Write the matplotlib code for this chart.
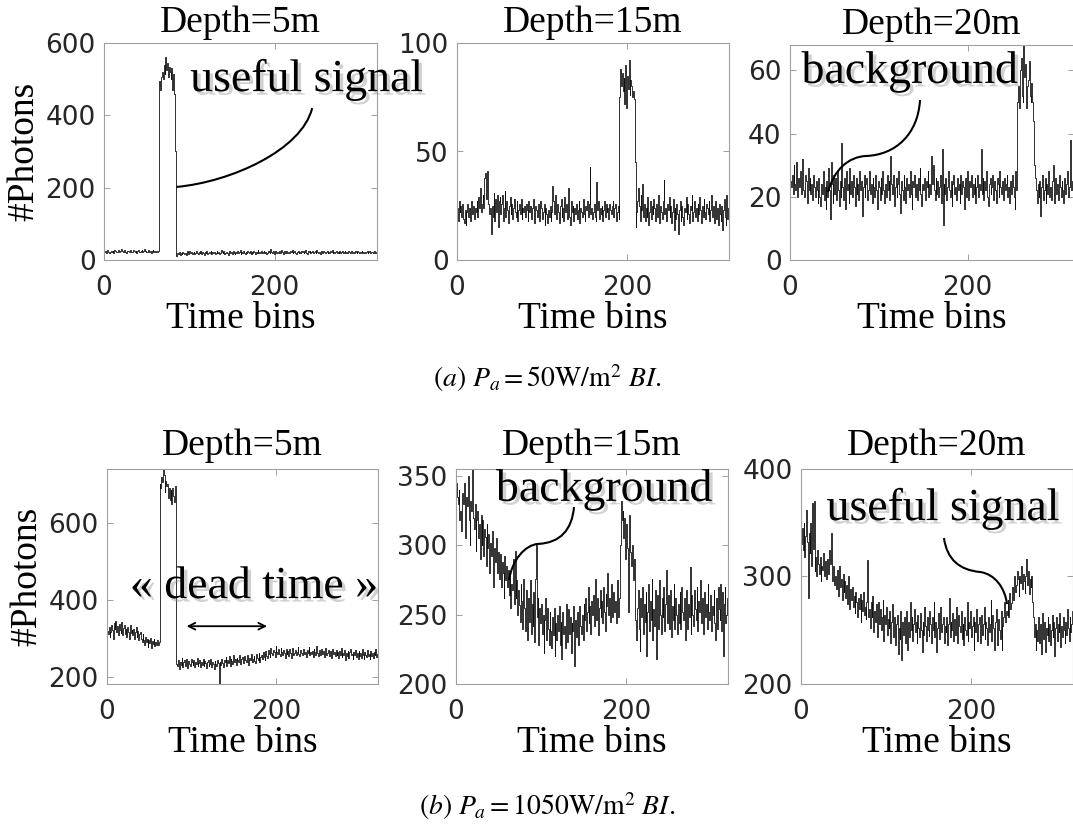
import numpy as np
import matplotlib
matplotlib.use("Agg")
import matplotlib.pyplot as plt
from matplotlib.path import Path
from matplotlib.patches import PathPatch
import matplotlib.patheffects as pe

plt.rcParams["font.family"] = "DejaVu Sans"
plt.rcParams["mathtext.fontset"] = "stix"

# photon counts per time bin
# (a) Pa = 50 W/m2
d5_low = (
    [22, 25, 20, 24, 27, 21, 19, 23, 26, 22, 24, 20, 28, 25, 21, 23, 27, 24, 22, 26,
     30, 24, 21, 25, 28, 23, 20, 24, 26, 22, 25, 29, 23, 21, 27, 24, 22, 25, 20, 26,
     28, 23, 21, 24, 27, 22, 25, 30, 24, 21, 23, 26, 28, 22, 24, 20, 25, 27, 23, 26,
     21, 24, 22, 25]
    + [480, 495, 470, 505, 520, 500, 540, 515, 560, 525, 545, 505, 535, 520, 500, 530,
       470, 515, 460, 300]
    + [10, 15, 18, 16, 21, 14, 19, 17, 22, 18, 16, 20, 15, 24, 19, 17, 26, 18, 21, 16,
       19, 23, 17, 20, 25, 18, 16, 22, 19, 24, 17, 21, 18, 15, 23, 20, 26, 17, 19, 22,
       18, 24, 16, 21, 19, 23, 17, 20, 25, 18, 22, 16, 19, 27, 21, 18, 24, 17, 20, 23,
       19, 15, 22, 26, 18, 21, 17, 24, 20, 16, 23, 19, 25, 18, 21, 28, 17, 22, 19, 24,
       20, 17, 23, 19, 26, 21, 18, 24, 16, 22, 19, 25, 21, 17, 23, 20, 27, 18, 22, 19,
       24, 18, 21, 26, 19, 23, 17, 20, 25, 22, 18, 30, 21, 19, 24, 17, 22, 26, 20, 23,
       19, 25, 18, 22, 28, 21, 17, 24, 20, 26, 22, 19, 23, 18, 25, 21, 27, 19, 22, 24,
       20, 17, 23, 26, 19, 22, 18, 25, 21, 24, 19, 23, 28, 20, 17, 24, 21, 26, 19, 22,
       25, 18, 21, 24, 20, 27, 22, 19, 23, 17, 24, 21, 19, 26, 22, 18, 23, 25, 20, 22,
       18, 24, 21, 27, 19, 23, 20, 22, 25, 18, 23, 20, 26, 19, 22, 24, 18, 21, 25, 20,
       22, 19, 24, 21, 18, 23, 26, 20, 22, 19, 25, 21, 18, 24, 22, 20, 23, 19, 26, 21,
       20, 23, 19, 22, 25, 18, 21, 24, 20, 22, 23, 19, 21, 24, 20, 22]
)

d15_low = (
    [24, 18, 27, 22, 25, 20, 26, 19, 17, 23, 16, 22, 26, 20, 24, 18, 23, 27, 21, 25,
     19, 24, 22, 27, 20, 29, 24, 33, 22, 26, 30, 24, 38, 40, 28, 41, 30, 26, 21, 24,
     12, 25, 20, 31, 18, 28, 22, 30, 15, 27, 29, 21, 26, 30, 18, 24, 32, 20, 27, 23,
     17, 25, 29, 21, 26, 19, 24, 28, 22, 20, 27, 18, 23, 26, 21, 28, 19, 24, 22, 25,
     20, 26, 23, 18, 27, 22, 25, 19, 24, 28, 21, 17, 25, 23, 20, 26, 22, 18, 27, 24,
     19, 22, 26, 16, 24, 21, 17, 23, 20, 25, 18, 22, 34, 27, 21, 30, 23, 19, 26, 22,
     17, 25, 28, 20, 24, 18, 29, 22, 26, 19, 23, 33, 20, 16, 27, 22, 25, 18, 24, 21,
     26, 19, 23, 27, 17, 24, 22, 20, 28, 21, 18, 25, 23, 27, 20, 26, 43, 21, 24, 19,
     22, 26, 20, 18, 36, 23, 27, 19, 24, 21, 25, 18, 23, 27, 20, 26, 22, 24, 19, 26,
     23, 21, 25, 27, 20, 24, 26, 18, 22, 25, 19]
    + [75, 88, 80, 86, 78, 84, 72, 90, 70, 85, 79, 92, 76, 83, 80, 75, 78, 74, 45]
    + [15, 22, 27, 33, 25, 18, 30, 23, 35, 20, 26, 18, 24, 20, 29, 16, 22, 27, 19, 25,
       21, 28, 24, 18, 26, 20, 23, 30, 17, 25, 22, 19, 27, 37, 21, 24, 18, 26, 23, 29,
       20, 25, 17, 22, 28, 14, 24, 19, 26, 21, 12, 23, 27, 18, 25, 20, 16, 24, 22, 29,
       19, 26, 21, 17, 25, 23, 30, 18, 22, 27, 20, 24, 18, 26, 21, 29, 23, 17, 25, 20,
       28, 22, 19, 26, 24, 21, 27, 18, 23, 30, 20, 25, 17, 22, 27, 19, 24, 16, 26, 21,
       18, 25, 14, 23, 28, 20, 16, 30, 19, 24]
)

d20_low = (
    [25, 23, 27, 21, 30, 24, 22, 31, 20, 26, 23, 28, 21, 24, 32, 22, 20, 27, 25, 18,
     29, 22, 26, 21, 24, 19, 27, 23, 20, 25, 22, 18, 26, 20, 17, 24, 21, 28, 19, 23,
     16, 25, 20, 29, 22, 13, 31, 24, 18, 27, 21, 26, 19, 28, 22, 17, 25, 20, 37, 23,
     19, 26, 16, 28, 22, 24, 18, 29, 21, 25, 20, 27, 23, 17, 26, 21, 24, 19, 28, 22,
     25, 14, 23, 27, 20, 24, 26, 19, 22, 28, 21, 24, 18, 26, 23, 20, 27, 22, 16, 25,
     23, 19, 26, 21, 28, 22, 18, 24, 20, 27, 22, 25, 19, 33, 24, 21, 27, 17, 23, 26,
     20, 24, 28, 21, 15, 25, 22, 19, 27, 23, 18, 26, 22, 24, 20, 28, 21, 16, 25, 23,
     27, 20, 24, 19, 26, 22, 29, 21, 17, 24, 22, 26, 19, 25, 23, 28, 20, 24, 21, 33,
     24, 30, 22, 19, 26, 21, 25, 20, 23, 27, 18, 35, 11, 24, 21, 26, 19, 23, 28, 22,
     20, 25, 17, 24, 27, 21, 23, 19, 26, 22, 24, 18, 27, 21, 25, 23, 16, 26, 20, 28,
     22, 19, 25, 23, 27, 20, 24, 21, 26, 18, 23, 27, 20, 24, 22, 35, 21, 26, 19, 25,
     22, 28, 20, 17, 24, 26, 21, 23, 27, 19, 25, 22, 18, 26, 24, 20, 28, 23, 21, 25,
     19, 26, 22, 24, 27, 20, 23, 18, 25, 21, 27, 23, 20, 16, 28, 22]
    + [50, 55, 48, 60, 64, 52, 50, 68, 58, 62, 48, 55, 57, 63, 52, 50, 56, 50, 44, 30]
    + [26, 22, 18, 24, 20, 25, 14, 23, 27, 19, 22, 26, 18, 24, 21, 28, 20, 23, 19, 25,
       30, 22, 18, 26, 21, 24, 19, 27, 23, 20, 25, 22, 18, 26, 21, 24, 28, 20, 23, 26,
       38, 22, 25, 20]
)

# (b) Pa = 1050 W/m2
d5_high = (
    [320, 312, 330, 305, 318, 335, 322, 300, 340, 325, 345, 318, 332, 310, 338, 322,
     315, 342, 308, 328, 335, 312, 326, 305, 330, 318, 300, 336, 314, 322, 308, 325,
     298, 316, 330, 304, 320, 296, 312, 318, 300, 290, 312, 296, 284, 305, 292, 300,
     278, 296, 288, 302, 275, 294, 286, 298, 280, 292, 284, 296, 282, 290]
    + [700, 690, 720, 705, 740, 725, 680, 710, 695, 700, 665, 690, 660, 685, 650, 690,
       670, 655, 695, 600]
    + [235, 228, 245, 222, 240, 232, 250, 226, 238, 244, 230, 248, 236, 224, 242, 233,
       228, 246, 238, 231, 244, 226, 240, 235, 250, 229, 237, 243, 225, 239, 232, 246,
       228, 241, 236, 223, 238, 245, 230, 234, 247, 226, 239, 233, 221, 242, 235, 229,
       244, 237, 182, 240, 231, 248, 236, 226, 243, 238, 252, 230, 245, 237, 255, 229,
       248, 241, 233, 256, 238, 246, 232, 250, 243, 238, 258, 235, 247, 252, 240, 236,
       254, 243, 238, 257, 246, 232, 250, 244, 260, 239, 248, 255, 242, 236, 259, 250,
       245, 262, 240, 253, 258, 247, 265, 252, 244, 268, 255, 250, 270, 260, 253, 275,
       262, 257, 270, 264, 252, 280, 266, 259, 272, 261, 255, 276, 265, 258, 270, 262,
       250, 274, 260, 268, 255, 272, 263, 249, 266, 275, 258, 262, 270, 256, 265, 278,
       260, 254, 271, 263, 257, 268, 274, 259, 266, 252, 270, 262, 278, 256, 265, 260,
       268, 253, 272, 264, 258, 280, 262, 255, 270, 266, 257, 274, 260, 268, 252, 265,
       276, 258, 263, 270, 255, 268, 262, 250, 272, 260, 266, 254, 270, 258, 264, 249,
       268, 258, 275, 252, 262, 256, 270, 245, 262, 255, 268, 250, 264, 272, 256, 260,
       248, 266, 258, 270, 252, 263, 246, 268, 255, 262, 250, 272, 256, 248, 265, 258,
       252, 270, 254, 260, 246, 268, 255, 262, 250, 266, 258, 272, 252, 260]
)

d15_high = (
    [345, 335, 330, 340, 318, 325, 310, 338, 330, 345, 322, 305, 335, 328, 350, 318,
     300, 332, 325, 355, 320, 312, 330, 296, 318, 325, 305, 315, 290, 322, 300, 318,
     292, 312, 306, 285, 315, 298, 308, 280, 302, 292, 310, 285, 270, 298, 288, 305,
     280, 295, 283, 276, 294, 270, 288, 280, 262, 292, 275, 285, 270, 282, 264, 278,
     255, 272, 268, 290, 258, 296, 262, 275, 250, 268, 257, 245, 272, 260, 240, 276,
     255, 238, 268, 250, 232, 262, 245, 275, 236, 258, 242, 266, 230, 276, 300, 248,
     262, 228, 255, 244, 258, 236, 250, 222, 246, 262, 232, 255, 240, 228, 252, 238,
     226, 248, 235, 255, 220, 244, 232, 250, 238, 256, 228, 245, 218, 252, 236, 242,
     226, 258, 240, 230, 254, 236, 248, 222, 244, 238, 256, 213, 246, 234, 252, 240,
     228, 256, 242, 236, 250, 232, 258, 246, 262, 238, 252, 270, 244, 256, 236, 260,
     250, 264, 242, 258, 276, 246, 262, 235, 255, 268, 248, 260, 244, 270, 252, 238,
     265, 256, 280, 250, 262, 245, 272, 258, 248, 266, 252, 260, 244, 275, 255, 248,
     262]
    + [300, 332, 318, 325, 305, 320, 290, 315, 298, 252, 310, 322, 295, 285, 300, 275,
       290, 268, 246]
    + [232, 255, 268, 240, 224, 262, 248, 270, 236, 258, 245, 266, 220, 252, 272, 238,
       260, 246, 276, 232, 254, 242, 268, 218, 256, 264, 240, 275, 250, 236, 262, 248,
       270, 238, 258, 282, 244, 264, 252, 240, 268, 234, 256, 246, 272, 240, 262, 250,
       236, 258, 244, 266, 240, 270, 252, 246, 262, 232, 256, 268, 240, 258, 248, 284,
       236, 264, 250, 242, 268, 254, 246, 270, 238, 260, 252, 275, 244, 262, 250, 236,
       266, 248, 258, 240, 272, 252, 246, 264, 238, 256, 250, 268, 244, 232, 262, 240,
       270, 254, 246, 272, 238, 266, 220, 258, 270, 244, 250, 262]
)

d20_high = (
    [330, 345, 325, 350, 318, 338, 362, 332, 280, 340, 322, 350, 310, 368, 326, 370,
     305, 318, 300, 325, 312, 302, 318, 296, 310, 306, 322, 300, 314, 298, 308, 316,
     302, 325, 312, 340, 305, 296, 310, 292, 300, 288, 306, 294, 282, 310, 290, 298,
     278, 302, 286, 296, 280, 292, 274, 300, 284, 270, 288, 278, 290, 272, 282, 266,
     286, 276, 262, 280, 270, 284, 258, 278, 268, 286, 264, 272, 260, 276, 315, 262,
     270, 252, 276, 262, 282, 248, 268, 258, 274, 244, 266, 276, 256, 270, 250, 262,
     278, 240, 264, 256, 272, 246, 260, 252, 268, 238, 258, 274, 244, 262, 250, 236,
     256, 264, 228, 252, 242, 268, 222, 258, 246, 262, 238, 254, 268, 232, 258, 244,
     276, 250, 262, 240, 256, 270, 248, 258, 238, 264, 252, 244, 266, 250, 230, 258,
     246, 272, 254, 240, 262, 250, 245, 268, 256, 238, 262, 250, 276, 244, 258, 230,
     252, 266, 242, 258, 272, 248, 256, 262, 238, 254, 248, 262, 236, 256, 280, 244,
     258, 250, 266, 240, 260, 246, 272, 252, 238, 264, 254, 248, 268, 242, 256, 236,
     262, 250, 246, 276, 240, 258, 252, 268, 244, 254, 262, 232, 258, 248, 270, 240,
     256, 262, 250, 238, 264, 246, 256, 272, 242, 258, 252, 236, 262, 248, 256, 278,
     240, 264, 252, 232, 258, 270, 246, 236, 260, 250, 242, 268, 232, 254, 262, 276,
     258, 268, 264, 278, 262, 285, 270, 275]
    + [290, 278, 296, 300, 286, 292, 305, 298, 282, 300, 294, 310, 288, 302, 296, 285,
       300, 316, 292, 305, 284, 298, 290, 300, 276]
    + [262, 244, 256, 232, 250, 240, 262, 238, 256, 228, 248, 266, 242, 258, 230, 252,
       246, 262, 240, 256, 236, 250, 264, 244, 258, 226, 252, 262, 240, 256, 248, 266,
       234, 254, 244, 262, 250, 238, 258, 246, 270, 252, 240, 262, 248, 256, 268]
)

titles = ["Depth=5m", "Depth=15m", "Depth=20m"]
series = [d5_low, d15_low, d20_low, d5_high, d15_high, d20_high]
ylims = [(0, 600), (0, 100), (0, 68), (182, 740), (200, 355), (200, 400)]
yticks = [[0, 200, 400, 600], [0, 50, 100], [0, 20, 40, 60],
          [200, 400, 600], [200, 250, 300, 350], [200, 300, 400]]

W, H = 1073, 830
# axes boxes in pixels: left, top, right, bottom
boxes = [(104, 43, 377, 260), (457, 43, 729, 260), (790, 45, 1074, 260),
         (107, 469, 378, 684), (456, 469, 728, 684), (801, 469, 1073, 684)]

serif = "Liberation Serif"
fig = plt.figure(figsize=(W / 100, H / 100), dpi=100)
axes = []
for i, (l, t, r, b) in enumerate(boxes):
    ax = fig.add_axes([l / W, 1 - b / H, (r - l) / W, (b - t) / H])
    y = series[i]
    ax.step(np.arange(len(y)), y, where="post", color="#111111", lw=0.6)
    ax.set_xlim(0, 320)
    ax.set_ylim(*ylims[i])
    ax.set_xticks([0, 200])
    ax.set_yticks(yticks[i])
    ax.tick_params(direction="in", length=4, width=0.6, color="#909090",
                   top=True, right=True, labelsize=19, labelcolor="#262626")
    ax.tick_params(axis="x", pad=11)
    ax.tick_params(axis="y", pad=6)
    for s in ax.spines.values():
        s.set_color("#a0a0a0")
        s.set_linewidth(0.8)
    ax.set_title(titles[i % 3], family=serif, fontsize=27, pad=8 if i < 3 else 10)
    ax.set_xlabel("Time bins", family=serif, fontsize=27, labelpad=0)
    if i % 3 == 0:
        ax.set_ylabel("#Photons", family=serif, fontsize=27, labelpad=3)
    axes.append(ax)

shadow = [pe.SimplePatchShadow(offset=(2.5, -2.5), shadow_rgbFace="0.55", alpha=0.4),
          pe.Normal()]


def label(ax, x, y, s):
    ax.text(x, y, s, family=serif, fontsize=33, ha="left", va="baseline",
            zorder=6, path_effects=shadow)


def curve(ax, pts):
    codes = [Path.MOVETO] + [Path.CURVE4] * (len(pts) - 1)
    ax.add_patch(PathPatch(Path(pts, codes), fill=False, ec="k", lw=1.5,
                           clip_on=False, zorder=5))


label(axes[0], 101, 467, "useful signal")
curve(axes[0], [(85, 202), (149, 216), (232, 304), (244, 420)])

label(axes[2], 13, 56, "background")
curve(axes[2], [(146.5, 50.6), (144.2, 39.6), (118.3, 33.2), (85.6, 32.9),
                (65.4, 32.6), (49.6, 28.5), (42.8, 21.5)])

label(axes[3], 27, 405, "« dead time »")
axes[3].annotate("", xy=(94, 332), xytext=(189, 332),
                 arrowprops=dict(arrowstyle="<->", lw=1.3, color="k",
                                 mutation_scale=12, shrinkA=0, shrinkB=0))

label(axes[4], 47, 332, "background")
curve(axes[4], [(138.8, 327.6), (136.5, 311), (122.4, 301.7), (96.5, 301),
                (81.2, 300.2), (65.9, 289.4), (62.4, 275)])

label(axes[5], 30, 352.5, "useful signal")
curve(axes[5], [(168.2, 335.8), (171.8, 315.3), (187.1, 306), (210.6, 304.2),
                (228.2, 302.3), (240, 289.3), (242.4, 274.4)])

fig.text(0.51, 1 - 378 / H, r"$\mathit{(a)}\ P_a = 50\mathrm{W}/\mathrm{m}^2\ \mathit{BI.}$",
         ha="center", va="center", fontsize=20)
fig.text(0.51, 1 - 806 / H, r"$\mathit{(b)}\ P_a = 1050\mathrm{W}/\mathrm{m}^2\ \mathit{BI.}$",
         ha="center", va="center", fontsize=20)

fig.savefig("out.png", dpi=100)
